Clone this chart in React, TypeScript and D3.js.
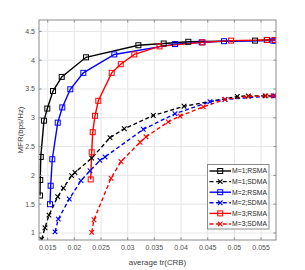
import React from "react";
import * as d3 from "d3";

// average tr(CRB) / MFR pairs
const crbM1Rsma = [0.01356, 0.0136, 0.0137, 0.0143, 0.01493, 0.016, 0.01763, 0.02218, 0.032, 0.03675, 0.04136, 0.05387, 0.05612, 0.05762];
const mfrM1Rsma = [1.65, 1.92, 2.32, 2.95, 3.16, 3.465, 3.71, 4.05, 4.26, 4.29, 4.32, 4.34, 4.35, 4.35];

const crbM1Sdma = [0.01387, 0.01449, 0.01524, 0.01688, 0.01793, 0.0195, 0.02012, 0.02325, 0.02668, 0.02936, 0.0348, 0.04056, 0.05055, 0.05262, 0.05575, 0.0576];
const mfrM1Sdma = [0.89, 1.09, 1.31, 1.63, 1.78, 1.995, 2.05, 2.3, 2.655, 2.81, 3.04, 3.2, 3.37, 3.38, 3.38, 3.38];

const crbM2Rsma = [0.01543, 0.01556, 0.01586, 0.01688, 0.01774, 0.01924, 0.02168, 0.02749, 0.03887, 0.04388, 0.04806, 0.0573, 0.0576];
const mfrM2Rsma = [1.5, 1.82, 2.28, 2.915, 3.18, 3.495, 3.78, 4.1, 4.28, 4.31, 4.33, 4.34, 4.34];

const crbM2Sdma = [0.01637, 0.01699, 0.01905, 0.02124, 0.02293, 0.0248, 0.02574, 0.03293, 0.03887, 0.04543, 0.04824, 0.0573, 0.0576];
const mfrM2Sdma = [1.02, 1.24, 1.59, 1.91, 2.08, 2.26, 2.32, 2.8, 3.07, 3.28, 3.32, 3.38, 3.38];

const crbM3Rsma = [0.02306, 0.02325, 0.02344, 0.02387, 0.02449, 0.027, 0.02869, 0.03124, 0.03596, 0.04406, 0.04937, 0.05606, 0.0576];
const mfrM3Rsma = [1.93, 2.4, 2.75, 3.035, 3.295, 3.78, 3.93, 4.1, 4.24, 4.31, 4.34, 4.35, 4.35];

const crbM3Sdma = [0.02325, 0.02368, 0.02687, 0.02874, 0.03231, 0.03343, 0.03761, 0.03981, 0.04418, 0.04824, 0.05261, 0.05593, 0.0573];
const mfrM3Sdma = [1.01, 1.23, 1.95, 2.24, 2.575, 2.67, 2.93, 3.03, 3.19, 3.32, 3.37, 3.38, 3.38];

const seriesNames = ["M=1;RSMA", "M=1;SDMA", "M=2;RSMA", "M=2;SDMA", "M=3;RSMA", "M=3;SDMA"];
const seriesColors = ["#000000", "#000000", "#0000ff", "#0000ff", "#ff0000", "#ff0000"];

const xTicks = [0.015, 0.02, 0.025, 0.03, 0.035, 0.04, 0.045, 0.05, 0.055];
const xTickLabels = ["0.015", "0.02", "0.025", "0.03", "0.035", "0.04", "0.045", "0.05", "0.055"];
const yTicks = [1, 1.5, 2, 2.5, 3, 3.5, 4, 4.5];
const yTickLabels = ["1", "1.5", "2", "2.5", "3", "3.5", "4", "4.5"];

const width = 305;
const height = 270;
const margin = { top: 20, right: 29, bottom: 30, left: 39 };
const font = "'Liberation Sans', Arial, sans-serif";

function Marker({ kind, x, y, color }) {
  if (kind === "square") {
    return <rect x={x - 2.5} y={y - 2.5} width={5} height={5} fill="none" stroke={color} strokeWidth={1} />;
  }
  return (
    <g stroke={color} strokeWidth={1.1}>
      <line x1={x - 2.3} y1={y - 2.3} x2={x + 2.3} y2={y + 2.3} />
      <line x1={x - 2.3} y1={y + 2.3} x2={x + 2.3} y2={y - 2.3} />
    </g>
  );
}

export default function App() {
  const x = d3.scaleLinear().domain([0.01337, 0.0578]).range([margin.left, width - margin.right]);
  const y = d3.scaleLinear().domain([0.878, 4.698]).range([height - margin.bottom, margin.top]);
  const x0 = margin.left, x1 = width - margin.right;
  const y0 = height - margin.bottom, y1 = margin.top;

  const series = [
    [crbM1Rsma, mfrM1Rsma],
    [crbM1Sdma, mfrM1Sdma],
    [crbM2Rsma, mfrM2Rsma],
    [crbM2Sdma, mfrM2Sdma],
    [crbM3Rsma, mfrM3Rsma],
    [crbM3Sdma, mfrM3Sdma],
  ].map(([xs, ys], i) => ({
    name: seriesNames[i],
    color: seriesColors[i],
    dashed: i % 2 === 1,
    marker: i % 2 === 1 ? "x" : "square",
    pts: xs.map((v, j) => [v, ys[j]]),
  }));

  const line = d3.line().x((d) => x(d[0])).y((d) => y(d[1]));

  // legend placement
  const lg = { left: 207.5, top: 164.5, w: 61.5, h: 64.5, row: 10.6 };

  return (
    <div style={{ position: "absolute", left: 0, top: 0 }}>
      <svg width={width} height={height} style={{ display: "block", background: "#fff" }}>
        <defs>
          <clipPath id="plot">
            <rect x={x0} y={y1} width={x1 - x0} height={y0 - y1} />
          </clipPath>
        </defs>
        {/* grid */}
        <g stroke="#e6e6e6" strokeWidth={1}>
          {xTicks.map((t) => (
            <line key={"gx" + t} x1={x(t)} x2={x(t)} y1={y1} y2={y0} />
          ))}
          {yTicks.map((t) => (
            <line key={"gy" + t} x1={x0} x2={x1} y1={y(t)} y2={y(t)} />
          ))}
        </g>
        {/* series */}
        <g clipPath="url(#plot)">
          {series.map((s) => (
            <path
              key={s.name}
              d={line(s.pts)}
              fill="none"
              stroke={s.color}
              strokeWidth={1.4}
              strokeDasharray={s.dashed ? "4,2.6" : undefined}
            />
          ))}
          {series.map((s) =>
            s.pts.map((p, j) => <Marker key={s.name + j} kind={s.marker} x={x(p[0])} y={y(p[1])} color={s.color} />)
          )}
        </g>
        {/* box and ticks */}
        <rect x={x0} y={y1} width={x1 - x0} height={y0 - y1} fill="none" stroke="#8a8a8a" strokeWidth={1} />
        <g stroke="#8a8a8a" strokeWidth={1}>
          {xTicks.map((t) => (
            <g key={"tx" + t}>
              <line x1={x(t)} x2={x(t)} y1={y0} y2={y0 - 2.5} />
              <line x1={x(t)} x2={x(t)} y1={y1} y2={y1 + 2.5} />
            </g>
          ))}
          {yTicks.map((t) => (
            <g key={"ty" + t}>
              <line x1={x0} x2={x0 + 2.5} y1={y(t)} y2={y(t)} />
              <line x1={x1} x2={x1 - 2.5} y1={y(t)} y2={y(t)} />
            </g>
          ))}
        </g>
        <g fontFamily={font} fontSize={7} fill="#505050">
          {xTicks.map((t, i) => (
            <text key={"lx" + t} x={x(t)} y={y0 + 10} textAnchor="middle">
              {xTickLabels[i]}
            </text>
          ))}
          {yTicks.map((t, i) => (
            <text key={"ly" + t} x={x0 - 4} y={y(t) + 2.5} textAnchor="end">
              {yTickLabels[i]}
            </text>
          ))}
        </g>
        <text x={(x0 + x1) / 2} y={264.5} textAnchor="middle" fontFamily={font} fontSize={7.9} fill="#404040">
          average tr(CRB)
        </text>
        <text
          transform={`translate(22.5, ${(y0 + y1) / 2}) rotate(-90)`}
          textAnchor="middle"
          fontFamily={font}
          fontSize={7.9}
          fill="#404040"
        >
          MFR(bps/Hz)
        </text>
        {/* legend */}
        <rect x={lg.left} y={lg.top} width={lg.w} height={lg.h} fill="#fff" stroke="#8a8a8a" strokeWidth={1} />
        {series.map((s, i) => {
          const cy = lg.top + 6.5 + i * lg.row;
          return (
            <g key={"lg" + s.name}>
              <line
                x1={lg.left + 2}
                x2={lg.left + 23.5}
                y1={cy}
                y2={cy}
                stroke={s.color}
                strokeWidth={1.4}
                strokeDasharray={s.dashed ? "4,2.6" : undefined}
              />
              <Marker kind={s.marker} x={lg.left + 12.7} y={cy} color={s.color} />
              <text x={lg.left + 24.5} y={cy + 2.4} fontFamily={font} fontSize={6.8} fill="#262626">
                {s.name}
              </text>
            </g>
          );
        })}
      </svg>
    </div>
  );
}
